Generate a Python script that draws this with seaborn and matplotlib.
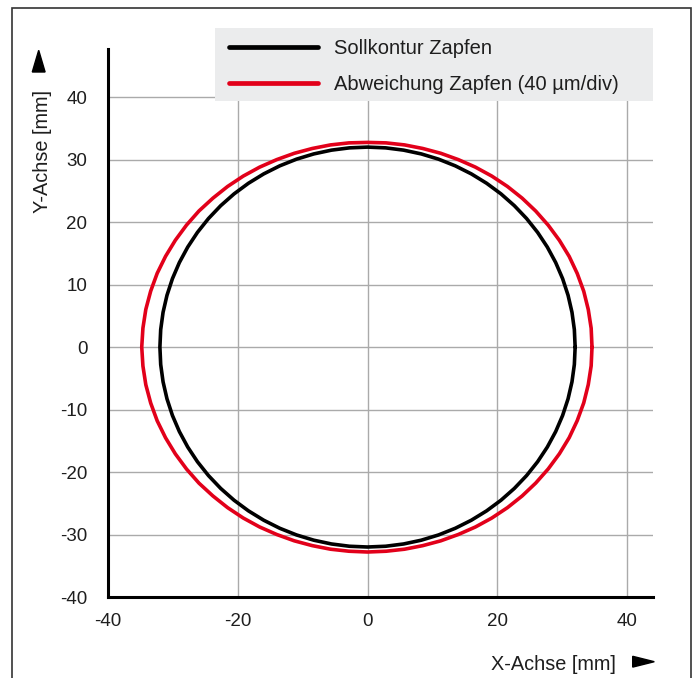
import numpy as np
import pandas as pd
import matplotlib.pyplot as plt
from matplotlib.patches import Polygon, Rectangle
import seaborn as sns

# Konturdaten (Polarkoordinaten, Winkel in Grad alle 5°, Radius in mm)
ANGLES_DEG = list(range(0, 360, 5))
SOLL_RADIUS_MM = 32.0
ABWEICHUNG_RADIUS_MM = [
    34.6, 34.6, 34.55, 34.5, 34.4, 34.3, 34.15, 34.0, 33.85, 33.7,
    33.55, 33.4, 33.25, 33.1, 33.0, 32.9, 32.85, 32.8, 32.75,
    32.8, 32.85, 32.9, 33.0, 33.1, 33.25, 33.4, 33.55, 33.7, 33.9,
    34.05, 34.2, 34.35, 34.5, 34.6, 34.7, 34.75,
    34.8,
    34.75, 34.7, 34.6, 34.5, 34.35, 34.2, 34.05, 33.9, 33.7, 33.55,
    33.4, 33.25, 33.1, 33.0, 32.9, 32.85, 32.8,
    32.8,
    32.8, 32.85, 32.9, 33.0, 33.1, 33.25, 33.4, 33.55, 33.7, 33.85,
    34.0, 34.15, 34.3, 34.4, 34.5, 34.55, 34.6,
]

CURVE_LABELS = ["Sollkontur Zapfen", "Abweichung Zapfen (40 µm/div)"]
CURVE_COLORS = ["#000000", "#e2001a"]
X_TICKS = [-40, -20, 0, 20, 40]
Y_TICKS = [-40, -30, -20, -10, 0, 10, 20, 30, 40]

W, H = 693, 678


def px(x, y):
    # Pixelposition -> Figurkoordinaten
    return x / W, 1 - y / H


def contour(angles, radii, label):
    a = np.deg2rad(np.append(angles, angles[0]))
    r = np.append(radii, radii[0])
    return pd.DataFrame({"x": r * np.cos(a), "y": r * np.sin(a),
                         "kurve": label, "idx": np.arange(len(a))})


df = pd.concat([
    contour(ANGLES_DEG, [SOLL_RADIUS_MM] * len(ANGLES_DEG), CURVE_LABELS[0]),
    contour(ANGLES_DEG, ABWEICHUNG_RADIUS_MM, CURVE_LABELS[1]),
], ignore_index=True)

sns.set_style("white")
plt.rcParams['font.family'] = ['Liberation Sans', 'DejaVu Sans']

fig = plt.figure(figsize=(W / 100, H / 100), dpi=100)
x0, y0 = px(108, 597)
x1, y1 = px(653, 49)
ax = fig.add_axes([x0, y0, x1 - x0, y1 - y0])

sns.lineplot(data=df, x="x", y="y", hue="kurve", hue_order=CURVE_LABELS,
             palette=dict(zip(CURVE_LABELS, CURVE_COLORS)),
             sort=False, estimator=None, linewidth=2.6, ax=ax)

ax.set_xlim(-40, 44)
ax.set_ylim(-40, 47.7)
ax.set_xticks(X_TICKS)
ax.set_yticks(Y_TICKS)
ax.set_xticklabels([str(t) for t in X_TICKS])
ax.set_yticklabels([str(t) for t in Y_TICKS])
ax.set_xlabel("")
ax.set_ylabel("")

ax.set_axisbelow(True)
ax.grid(True, color="#aaaaaa", linewidth=1.0)
for side in ["top", "right"]:
    ax.spines[side].set_visible(False)
for side in ["left", "bottom"]:
    ax.spines[side].set_color("black")
    ax.spines[side].set_linewidth(2.2)
    ax.spines[side].set_zorder(3)

ax.tick_params(axis="both", direction="out", length=4.3, width=1.0,
               color="#999999", labelsize=13.5, labelcolor="#1e1e1e")
ax.tick_params(axis="x", pad=7)
ax.tick_params(axis="y", pad=10.5)

# Legende mit grauem Hintergrund
lx, ly = px(215, 101)
bg = Rectangle((lx, ly), 438 / W, 73 / H, transform=fig.transFigure,
               facecolor="#ebeced", edgecolor="none", clip_on=False, zorder=4)
ax.add_patch(bg)
leg = ax.legend(loc="upper left", bbox_to_anchor=px(229, 39),
                bbox_transform=fig.transFigure, frameon=False,
                borderpad=0, borderaxespad=0, fontsize=14.5,
                handlelength=4.4, handletextpad=0.8, labelspacing=0.85)
leg.set_zorder(5)
for line in leg.get_lines():
    line.set_linewidth(3.4)
for t in leg.get_texts():
    t.set_color("#1e1e1e")

# Achsbeschriftungen mit Pfeilen
fig.text(*px(615.7, 670), "X-Achse [mm]", ha="right", va="baseline",
         fontsize=14.3, color="#1e1e1e")
fig.text(*px(48.3, 213), "Y-Achse [mm]", rotation=90, rotation_mode="anchor",
         ha="left", va="baseline", fontsize=14.3, color="#1e1e1e")
fig.add_artist(Polygon([px(632.7, 656.3), px(654.3, 661.7), px(632.7, 667.1)],
                       closed=True, transform=fig.transFigure, color="black"))
fig.add_artist(Polygon([px(32.3, 72), px(38.7, 50.3), px(45.1, 72)],
                       closed=True, transform=fig.transFigure, color="black"))

# Rahmen um die Grafik
fig.add_artist(Rectangle(px(12, 700), 679 / W, 692 / H, transform=fig.transFigure,
                         fill=False, edgecolor="#333333", linewidth=1.2))

fig.savefig("out.png", dpi=100)
